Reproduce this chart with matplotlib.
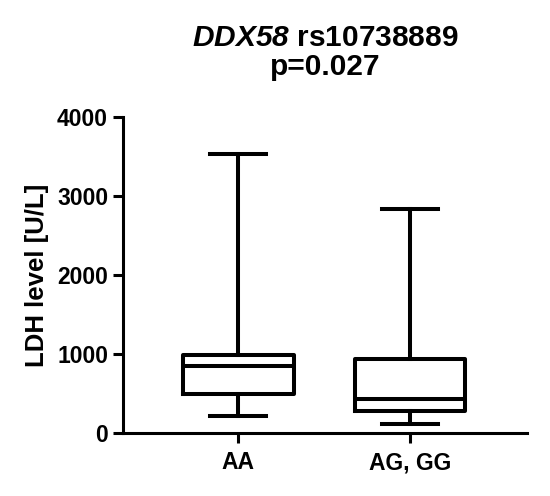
import matplotlib
matplotlib.use("Agg")
import matplotlib.pyplot as plt

plt.rcParams['font.family'] = ['Liberation Sans', 'DejaVu Sans']
plt.rcParams['mathtext.fontset'] = 'custom'
plt.rcParams['mathtext.it'] = 'Liberation Sans:italic:bold'
plt.rcParams['mathtext.rm'] = 'Liberation Sans:italic:bold'

categories = ["AA", "AG, GG"]
whislo = [210, 110]
q1 = [497, 274]
median = [842, 429]
q3 = [990, 930]
whishi = [3525, 2834]
yticks = [0, 1000, 2000, 3000, 4000]

fig = plt.figure(figsize=(5.5, 4.96), dpi=100)
ax = fig.add_axes([0.2236, 0.127, 0.7345, 0.6377])

stats = []
for i, c in enumerate(categories):
    stats.append(dict(label=c, whislo=whislo[i], q1=q1[i], med=median[i],
                      q3=q3[i], whishi=whishi[i], fliers=[]))

lw = 2.9
ax.bxp(stats, positions=[0, 1], widths=0.645, capwidths=0.325, showfliers=False,
       boxprops=dict(color='black', linewidth=lw),
       medianprops=dict(color='black', linewidth=lw),
       whiskerprops=dict(color='black', linewidth=lw),
       capprops=dict(color='black', linewidth=lw))

ax.set_xlim(-0.67, 1.68)
ax.set_ylim(0, 4000)
ax.set_yticks(yticks)
ax.set_yticklabels([str(t) for t in yticks])
ax.set_xticks([0, 1])
ax.set_xticklabels(categories)

for s in ['top', 'right']:
    ax.spines[s].set_visible(False)
for s in ['left', 'bottom']:
    ax.spines[s].set_linewidth(2.2)

ax.tick_params(axis='both', width=2.2, length=7.2, labelsize=16.5)
ax.tick_params(axis='y', pad=3.5)
ax.tick_params(axis='x', pad=6)
for lab in ax.get_xticklabels() + ax.get_yticklabels():
    lab.set_fontweight('bold')

ax.set_ylabel("LDH level [U/L]", fontsize=18.5, fontweight='bold', labelpad=6)
ax.set_title(r"$\it{DDX58}$ rs10738889" + "\np=0.027", fontsize=21.5,
             fontweight='bold', linespacing=1.05, pad=30)

fig.savefig("out.png", dpi=100)
